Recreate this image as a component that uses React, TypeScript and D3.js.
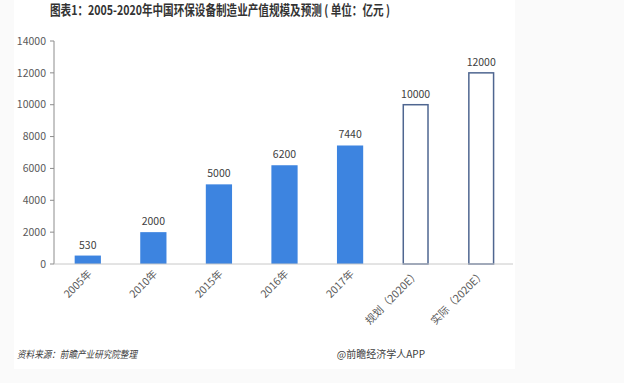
import React from "react";
import * as d3 from "d3";

const categories = ["2005年", "2010年", "2015年", "2016年", "2017年", "规划（2020E）", "实际（2020E）"];
const values = [530, 2000, 5000, 6200, 7440, 10000, 12000];
const forecast = [false, false, false, false, false, true, true];
const yTicks = [0, 2000, 4000, 6000, 8000, 10000, 12000, 14000];

const W = 624, H = 383;
const FONT = "'Noto Sans CJK SC', 'Noto Sans', sans-serif";

export default function App() {
  const x = d3.scaleBand<string>().domain(categories).range([55, 514]).paddingInner(0.6).paddingOuter(0.3);
  const y = d3.scaleLinear().domain([0, 14000]).range([264, 41]);
  return (
    <svg width={W} height={H} style={{ position: "absolute", left: 0, top: 0 }} fontFamily={FONT}>
      <rect x={0} y={0} width={W} height={H} fill="#fafafa" />
      <rect x={14} y={0} width={501} height={369} fill="#ffffff" />
      <text x={50} y={15} fontSize={13.5} fontWeight="bold" fill="#333" textLength={340} lengthAdjust="spacingAndGlyphs">
        图表1：2005-2020年中国环保设备制造业产值规模及预测 ( 单位：亿元 )
      </text>
      {/* y axis */}
      <line x1={54} x2={54} y1={y(14000)} y2={y(0)} stroke="#8c8c8c" strokeWidth={1} />
      {yTicks.map((t) => (
        <g key={t}>
          <line x1={50} x2={54} y1={y(t)} y2={y(t)} stroke="#8c8c8c" />
          <text x={46} y={y(t)} dy="0.35em" textAnchor="end" fontSize={10.5} fill="#595959">{t}</text>
        </g>
      ))}
      {/* bars */}
      {categories.map((c, i) => {
        const bx = x(c)!;
        const bw = x.bandwidth();
        const top = y(values[i]);
        return (
          <g key={c}>
            {forecast[i] ? (
              <rect x={bx + 0.75} y={top} width={bw - 1.5} height={y(0) - top} fill="#fff" stroke="#4f6690" strokeWidth={1.5} />
            ) : (
              <rect x={bx} y={top} width={bw} height={y(0) - top} fill="#3d84e0" />
            )}
            <text x={bx + bw / 2} y={top - 7} textAnchor="middle" fontSize={10.5} fill="#404040">{values[i]}</text>
          </g>
        );
      })}
      {/* x axis */}
      <line x1={54} x2={513} y1={y(0)} y2={y(0)} stroke="#c8c8c8" strokeWidth={1} />
      {categories.map((c) => {
        const cx = x(c)! + x.bandwidth() / 2 + 2;
        return (
          <text key={c} transform={`translate(${cx},${272}) rotate(-45)`} textAnchor="end" fontSize={10.5} fill="#595959" dy="0.35em">
            {c}
          </text>
        );
      })}
      <text x={17} y={358} fontSize={10} fontStyle="italic" fill="#404040" textLength={120} lengthAdjust="spacingAndGlyphs">资料来源：前瞻产业研究院整理</text>
      <text x={425} y={358} fontSize={10} textAnchor="end" fill="#404040">@前瞻经济学人APP</text>
    </svg>
  );
}
